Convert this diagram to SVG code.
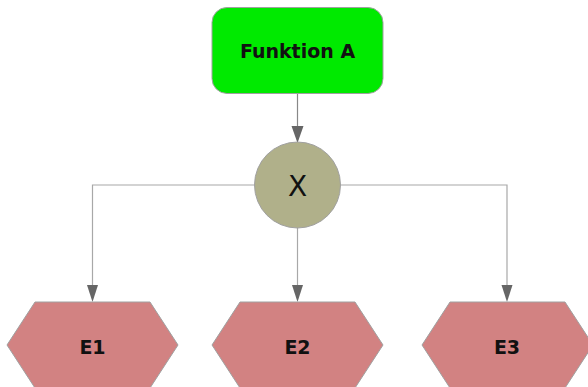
<svg xmlns="http://www.w3.org/2000/svg" width="588" height="387" viewBox="0 0 588 387">
<style>
.lbl{font-family:"DejaVu Sans",Verdana,sans-serif;font-weight:bold;font-size:19px;fill:#111;text-anchor:middle;dominant-baseline:central}
.hex{fill:#d28282;stroke:#a0a0a0;stroke-width:1}
.conn{fill:none;stroke:#a8a8a8;stroke-width:1.2}
.head{fill:#666}
</style>
<rect width="588" height="387" fill="#ffffff"/>
<g id="connectors">
<line class="conn" x1="297.5" y1="93" x2="297.5" y2="127" style="stroke:#888"/>
<polygon class="head" points="291.5,126 303.5,126 297.5,143"/>
<polyline class="conn" points="254,185 92.5,185 92.5,286"/>
<polygon class="head" points="87,285 98,285 92.5,302"/>
<polyline class="conn" points="341,185 507,185 507,286"/>
<polygon class="head" points="501.5,285 512.5,285 507,302"/>
<line class="conn" x1="297.5" y1="228" x2="297.5" y2="286"/>
<polygon class="head" points="292,285 303,285 297.5,302"/>
</g>
<g id="funktionA">
<rect x="212" y="7.5" width="171" height="86" rx="15" ry="15" fill="#00ea00" stroke="#a0a0a0" stroke-width="1"/>
<text class="lbl" x="297.5" y="51">Funktion A</text>
</g>
<g id="xor">
<circle cx="297.5" cy="185" r="43" fill="#b0b08a" stroke="#a0a0a0" stroke-width="1"/>
<text x="297.5" y="186" font-family="DejaVu Sans,Verdana,sans-serif" font-size="28" fill="#111" text-anchor="middle" dominant-baseline="central">X</text>
</g>
<g id="E1">
<polygon class="hex" points="7,345 35,302 150,302 178,345 150,388 35,388"/>
<text class="lbl" x="92.5" y="347">E1</text>
</g>
<g id="E2">
<polygon class="hex" points="212,345 240,302 355,302 383,345 355,388 240,388"/>
<text class="lbl" x="297.5" y="347">E2</text>
</g>
<g id="E3">
<polygon class="hex" points="422,345 450,302 565,302 593,345 565,388 450,388"/>
<text class="lbl" x="507" y="347">E3</text>
</g>
</svg>
